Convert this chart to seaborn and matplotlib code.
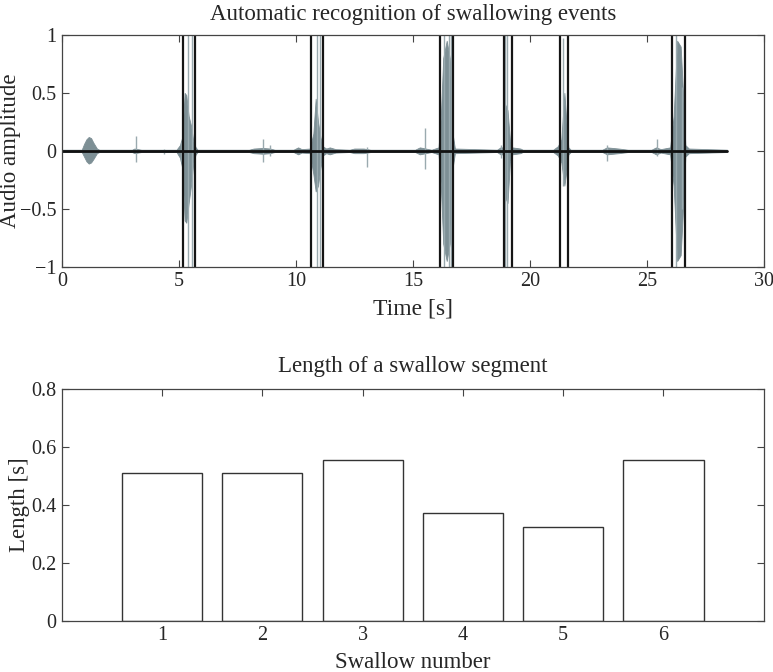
import matplotlib
matplotlib.use("Agg")
import matplotlib.pyplot as plt
import pandas as pd
import seaborn as sns

# detected swallow segments (start time [s], length [s])
swallow_start = [5.19, 10.67, 16.16, 18.88, 21.30, 26.07]
swallow_length = [0.511, 0.511, 0.557, 0.372, 0.325, 0.557]
swallow_number = [1, 2, 3, 4, 5, 6]
signal_end = 28.43

# audio envelope (time, upper, lower)
wave_t = [0.0, 0.85, 0.95, 1.05, 1.15, 1.25, 1.35, 1.5, 1.6, 3.0, 3.1, 3.25, 3.4,
          4.9, 5.05, 5.15, 5.25, 5.32, 5.42, 5.52, 5.62, 5.72, 5.8,
          8.0, 8.2, 8.6, 8.9, 9.1, 9.9, 10.1, 10.25,
          10.6, 10.75, 10.85, 10.95, 11.05, 11.15, 11.3, 11.45, 11.7,
          12.3, 12.5, 12.9, 13.2, 15.1, 15.3, 15.55, 15.8,
          16.1, 16.2, 16.3, 16.45, 16.58, 16.7, 16.8,
          18.6, 18.75, 18.85, 18.95, 19.05, 19.15, 19.25, 19.6, 19.7,
          21.0, 21.2, 21.35, 21.48, 21.58, 21.65, 21.75,
          23.1, 23.3, 23.8, 24.2, 25.2, 25.4, 25.6,
          26.0, 26.15, 26.3, 26.45, 26.55, 26.65, 26.8, 28.43]
wave_hi = [0.01, 0.01, 0.06, 0.10, 0.12, 0.11, 0.07, 0.02, 0.01, 0.01, 0.02, 0.015, 0.01,
           0.01, 0.05, 0.12, 0.50, 0.48, 0.30, 0.22, 0.08, 0.03, 0.01,
           0.01, 0.02, 0.025, 0.02, 0.01, 0.01, 0.03, 0.015,
           0.02, 0.15, 0.45, 0.25, 0.12, 0.04, 0.02, 0.03, 0.015,
           0.01, 0.02, 0.02, 0.01, 0.01, 0.03, 0.02, 0.01,
           0.03, 0.30, 0.80, 0.95, 0.80, 0.15, 0.02,
           0.01, 0.03, 0.03, 0.40, 0.35, 0.10, 0.03, 0.02, 0.01,
           0.01, 0.04, 0.10, 0.50, 0.20, 0.03, 0.01,
           0.01, 0.03, 0.02, 0.01, 0.01, 0.03, 0.015,
           0.03, 0.30, 0.95, 0.90, 0.50, 0.05, 0.02, 0.01]
wave_lo = [-0.01, -0.01, -0.05, -0.09, -0.11, -0.10, -0.07, -0.02, -0.01, -0.01, -0.02, -0.015, -0.01,
           -0.01, -0.06, -0.15, -0.60, -0.62, -0.45, -0.30, -0.10, -0.03, -0.01,
           -0.01, -0.02, -0.025, -0.02, -0.01, -0.01, -0.03, -0.015,
           -0.02, -0.20, -0.35, -0.30, -0.15, -0.04, -0.02, -0.03, -0.015,
           -0.01, -0.02, -0.02, -0.01, -0.01, -0.03, -0.02, -0.01,
           -0.03, -0.30, -0.80, -0.95, -0.80, -0.15, -0.02,
           -0.01, -0.03, -0.03, -0.40, -0.45, -0.10, -0.03, -0.02, -0.01,
           -0.01, -0.04, -0.10, -0.30, -0.15, -0.03, -0.01,
           -0.01, -0.03, -0.02, -0.01, -0.01, -0.03, -0.015,
           -0.03, -0.30, -0.95, -0.90, -0.50, -0.05, -0.02, -0.01]

# isolated clicks / clipped peaks
spike_t = [3.15, 4.38, 5.09, 8.6, 8.9, 13.04, 15.52, 18.78, 23.3, 25.45,
           5.38, 5.56, 10.91, 11.05, 16.35, 16.55, 16.62, 18.95, 19.02, 21.42, 26.25, 26.5]
spike_hi = [0.13, 0.02, 0.08, 0.10, 0.05, 0.03, 0.20, 0.05, 0.05, 0.10,
            1.0, 1.0, 1.0, 1.0, 1.0, 1.0, 1.0, 1.0, 1.0, 0.97, 1.0, 0.55]
spike_lo = [-0.10, -0.03, -0.09, -0.10, -0.04, -0.14, -0.16, -0.06, -0.09, -0.04,
            -1.0, -1.0, -1.0, -1.0, -1.0, -1.0, -1.0, -1.0, -1.0, -0.30, -1.0, -0.50]

sns.set_style("ticks")
plt.rcParams["font.family"] = ["Liberation Serif", "DejaVu Serif"]
plt.rcParams["axes.edgecolor"] = "#444444"
plt.rcParams["axes.linewidth"] = 0.9

fig = plt.figure(figsize=(7.73, 6.72), dpi=100)
ax1 = fig.add_axes([0.080, 0.603, 0.908, 0.345])
ax2 = fig.add_axes([0.080, 0.076, 0.908, 0.345])

wave_color = "#7d8f95"
ax1.fill_between(wave_t, wave_lo, wave_hi, color=wave_color, lw=0.6, edgecolor=wave_color)
ax1.vlines(spike_t, spike_lo, spike_hi, color="#9aaaaf", lw=1.0)
sns.lineplot(x=[0, signal_end], y=[0, 0], ax=ax1, color="#111111", lw=2.0)
ends = [s + l for s, l in zip(swallow_start, swallow_length)]
ax1.vlines(swallow_start + ends, -1, 1, color="#151515", lw=1.6)

ax1.set_xlim(0, 30)
ax1.set_ylim(-1, 1)
ax1.set_xticks([0, 5, 10, 15, 20, 25, 30])
ax1.set_yticks([-1, -0.5, 0, 0.5, 1])
ax1.set_yticklabels(["\u22121", "\u22120.5", "0", "0.5", "1"])
ax1.set_title("Automatic recognition of swallowing events", fontsize=16.5, pad=11)
ax1.set_xlabel("Time [s]", fontsize=17, labelpad=5)
ax1.set_ylabel("Audio amplitude", fontsize=16.5)
ax1.yaxis.set_label_coords(-0.058, 0.5)

df = pd.DataFrame({"swallow": swallow_number, "length": swallow_length})
sns.barplot(data=df, x="swallow", y="length", native_scale=True, width=0.8,
            color="white", edgecolor="#333333", linewidth=1.0, ax=ax2)
ax2.set_xlim(0, 7)
ax2.set_ylim(0, 0.8)
ax2.set_xticks(swallow_number)
ax2.set_yticks([0, 0.2, 0.4, 0.6, 0.8])
ax2.set_yticklabels(["0", "0.2", "0.4", "0.6", "0.8"])
ax2.set_title("Length of a swallow segment", fontsize=16.5, pad=12)
ax2.set_xlabel("Swallow number", fontsize=16.5, labelpad=5)
ax2.set_ylabel("Length [s]", fontsize=16.5)
ax2.yaxis.set_label_coords(-0.045, 0.5)

for ax in (ax1, ax2):
    ax.tick_params(direction="in", top=True, right=True, length=5, width=0.8,
                   labelsize=14.5, color="#444444", pad=4)
    for sp in ax.spines.values():
        sp.set_visible(True)

fig.savefig("out.png", dpi=100)
